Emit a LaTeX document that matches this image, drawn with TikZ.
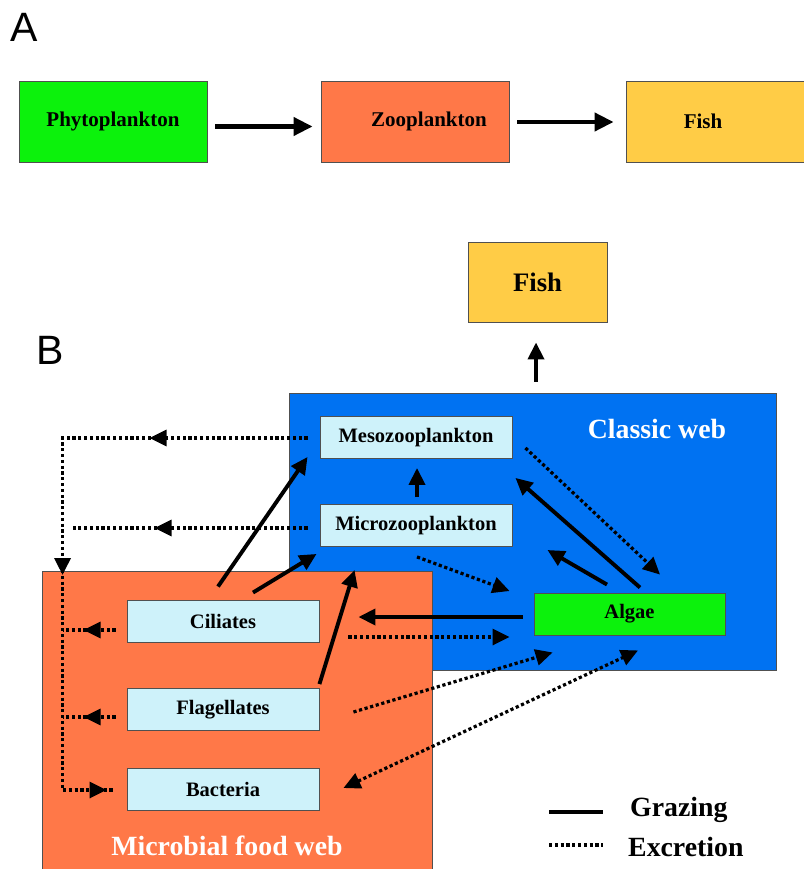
\documentclass[tikz,border=0pt]{standalone}
\usepackage{fontspec}
\setmainfont{Liberation Serif}
\newfontfamily\labfont{Liberation Sans}
\usetikzlibrary{arrows.meta,calc,decorations.markings}
\definecolor{cgreen}{RGB}{12,242,12}
\definecolor{corange}{RGB}{255,120,72}
\definecolor{cfish}{RGB}{255,204,70}
\definecolor{cblue}{RGB}{0,114,242}
\definecolor{ccyan}{RGB}{206,242,250}
\definecolor{boxline}{RGB}{80,80,80}
\begin{document}
\begin{tikzpicture}[x=1pt,y=-1pt,
  boxA/.style={draw=boxline, line width=0.9pt, inner sep=0pt, minimum width=188pt, minimum height=81pt, font=\bfseries\fontsize{21}{25}\selectfont},
  boxB/.style={draw=boxline, line width=0.9pt, inner sep=0pt, fill=ccyan, minimum width=192pt, minimum height=42pt, font=\bfseries\fontsize{20.5}{24}\selectfont},
  tipT/.tip={Triangle[length=17pt,width=16pt]},
  graze/.style={line width=3.9pt, -tipT},
  excr/.style={line width=3.2pt, dash pattern=on 3.2pt off 2.6pt},
  webtext/.style={text=white, inner sep=0pt, font=\bfseries\fontsize{27.8}{32}\selectfont},
  legtext/.style={inner sep=0pt, anchor=west, font=\bfseries\fontsize{27.8}{32}\selectfont},
  panel/.style={inner sep=0pt, font=\labfont\fontsize{41}{48}\selectfont}
]
\useasboundingbox (0,0) rectangle (803,869);
\fill[white] (0,0) rectangle (803,869);

% ---------- Panel A ----------
\node[panel] (labA) at (24,27) {A};
\node[boxA, fill=cgreen] (phyA) at (113,121.5) {Phytoplankton};
\node[boxA, fill=corange] (zooA) at (415,121.5) {\hspace*{28pt}Zooplankton};
\node[boxA, fill=cfish, minimum width=180pt] (fishA) at (716,121.5) {Fish\hspace*{26pt}};
\draw[line width=4.2pt, -{Triangle[length=19pt,width=18pt]}] ($(phyA.east)+(8,5)$) -- ($(zooA.west)+(-8,5)$);
\draw[line width=4.2pt, -{Triangle[length=19pt,width=18pt]}] ($(zooA.east)+(8,0.5)$) -- ($(fishA.west)+(-12,0.5)$);

% ---------- Panel B ----------
\node[panel] (labB) at (50,350) {B};
\node[draw=boxline, line width=0.9pt, fill=cfish, inner sep=0pt, minimum width=139pt, minimum height=80pt, font=\bfseries\fontsize{26.7}{30}\selectfont] (fishB) at (537.5,282) {Fish};

\node[draw=boxline, line width=0.9pt, fill=cblue, inner sep=0pt, minimum width=487pt, minimum height=277pt] (classic) at (532.5,531.5) {};
\node[draw=boxline, line width=0.9pt, fill=corange, inner sep=0pt, minimum width=390pt, minimum height=309pt] (microbial) at (237,725.5) {};
\node[webtext] (classlab) at (657,429) {Classic web};
\node[webtext] (microlab) at (227,846) {Microbial food web};

\node[boxB] (meso) at (416,437.5) {Mesozooplankton};
\node[boxB] (micro) at (416,525.5) {Microzooplankton};
\node[boxB] (cil) at (223,621) {Ciliates};
\node[boxB] (flag) at (223,709.5) {Flagellates};
\node[boxB] (bact) at (223,789.5) {Bacteria};
\node[boxB, fill=cgreen, minimum width=191pt] (algae) at (629.5,614) {Algae};

% excretion (dotted)
\draw[excr, postaction={decorate}, decoration={markings,
   mark=at position 158pt with {\arrow[solid]{tipT}},
   mark=at position 382pt with {\arrow[solid]{tipT}},
   mark=at position 641pt with {\arrow[solid]{tipT}}}]
   ($(meso.west)+(-12,0.5)$) -- ++(-245,0) |- ($(bact.west)+(-12,0.5)$);
\draw[excr, postaction={decorate}, decoration={markings,
   mark=at position 153pt with {\arrow[solid]{tipT}}}]
   ($(micro.west)+(-12,2.5)$) -- ++(-235,0);
\draw[excr, postaction={decorate}, decoration={markings,
   mark=at position 32pt with {\arrow[solid]{tipT}}}]
   ($(cil.west)+(-11,9)$) -- ++(-53,0);
\draw[excr, postaction={decorate}, decoration={markings,
   mark=at position 32pt with {\arrow[solid]{tipT}}}]
   ($(flag.west)+(-11,7.5)$) -- ++(-53,0);
\draw[excr, -tipT] ($(meso.east)+(13,10.5)$) -- ($(algae.north)+(30.5,-18)$);
\draw[excr, -tipT] ($(micro.south)+(1,10)$) -- ($(algae.west)+(-24,-23)$);
\draw[excr, -tipT] ($(cil.east)+(29,16)$) -- ($(algae.west)+(-24,23)$);
\draw[excr, -tipT] ($(flag.east)+(34,2.5)$) -- ($(algae.south west)+(19,17)$);
\draw[excr, tipT-tipT] ($(bact.east)+(24,-1.5)$) -- ($(algae.south)+(8.5,15)$);

% grazing (solid)
\draw[graze] ($(micro.north)+(1,-7)$) -- ($(meso.south)+(1,9)$);
\draw[graze] ($(cil.north)+(-5,-13)$) -- ($(meso.south west)+(-12,-2)$);
\draw[graze] ($(cil.north)+(30,-7)$) -- ($(micro.south west)+(-3,7)$);
\draw[graze] ($(flag.north east)+(0,-4)$) -- ($(micro.south west)+(35,23)$);
\draw[graze] ($(algae.west)+(-11,3)$) -- ($(cil.east)+(39,-4)$);
\draw[graze] ($(algae.north)+(10.5,-5)$) -- ($(meso.south east)+(3,19)$);
\draw[graze] ($(algae.north)+(-22.5,-8)$) -- ($(micro.east)+(35,24.5)$);
\draw[graze] ($(classic.north)+(3.5,-11)$) -- ($(fishB.south)+(-1.5,20)$);

% legend
\coordinate (lgA1) at (549,812);
\coordinate (lgA2) at (603,812);
\coordinate (lgB1) at (549,845);
\coordinate (lgB2) at (603,845);
\draw[line width=4.2pt] (lgA1) -- (lgA2);
\draw[excr] (lgB1) -- (lgB2);
\node[legtext] (leggraze) at (630,810) {Grazing};
\node[legtext] (legexcr) at (628,847) {Excretion};
\end{tikzpicture}
\end{document}
